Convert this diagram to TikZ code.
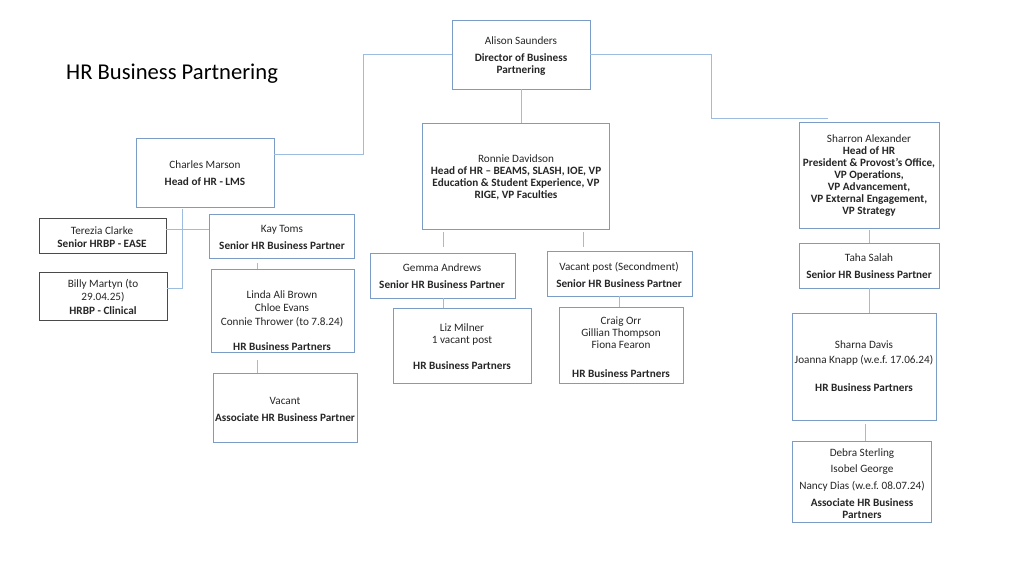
\documentclass[tikz,border=0pt]{standalone}
\usepackage{fontspec}
\setmainfont{Carlito}
\usetikzlibrary{fit}
\frenchspacing
\definecolor{boxblue}{HTML}{7C9CC8}
\definecolor{lineblue}{HTML}{9DBDE0}
\definecolor{boxgray}{HTML}{4A4A4A}
\tikzset{
  box/.style={draw=boxblue, line width=1pt, inner sep=0pt, outer sep=0pt, fill=white},
  graybox/.style={draw=boxgray, line width=1pt, inner sep=0pt, outer sep=0pt, fill=white},
  txt/.style={align=center, inner sep=0pt, yshift=-1.5pt, font=\fontsize{11.2}{12}\selectfont\frenchspacing, text=black!85},
  conn/.style={draw=lineblue, line width=0.9pt}
}
\begin{document}
\begin{tikzpicture}[x=1pt,y=-1pt]
\useasboundingbox (0,0) rectangle (1024,576);

% title
\node[anchor=west, inner sep=0pt, yshift=-1.5pt, font=\fontsize{22.6}{24}\selectfont] (title) at (66,72) {HR Business Partnering};

% boxes
\node[box, fit={(452,20) (590,89)}] (alison) {};
\node[box, fit={(422,123) (609,229)}] (ronnie) {};
\node[box, fit={(136,138) (274,207)}] (charles) {};
\node[box, fit={(799,122) (939,228)}] (sharron) {};
\node[graybox, fit={(39,218) (166,253)}] (terezia) {};
\node[graybox, fit={(39,272) (167,320)}] (billy) {};
\node[box, fit={(209,214) (354,258)}] (kay) {};
\node[box, fit={(211,269) (354,352)}] (linda) {};
\node[box, fit={(213,373) (357,442)}] (vacant) {};
\node[box, fit={(370,253) (515,298)}] (gemma) {};
\node[box, fit={(547,251) (692,296)}] (vpost) {};
\node[box, fit={(393,308) (531,383)}] (liz) {};
\node[box, fit={(559,307) (683,383)}] (craig) {};
\node[box, fit={(799,243) (939,288)}] (taha) {};
\node[box, fit={(792,313) (936,420)}] (sharna) {};
\node[box, fit={(792,441) (931,522)}] (debra) {};

% texts
\node[txt] (alison-t) at (521,54.5) {Alison Saunders\\[5pt]\textbf{Director of Business}\\\textbf{Partnering}};
\node[txt] (ronnie-t) at (516,176) {Ronnie Davidson\\\textbf{Head of HR – BEAMS, SLASH, IOE, VP}\\\textbf{Education \& Student Experience, VP}\\\textbf{RIGE, VP Faculties}};
\node[txt] (charles-t) at (205,171.5) {Charles Marson\\[5pt]\textbf{Head of HR - LMS}};
\node[txt] (sharron-t) at (869,174) {Sharron Alexander\\\textbf{Head of HR}\\\textbf{President \& Provost’s Office,}\\\textbf{VP Operations,}\\\textbf{VP Advancement,}\\\textbf{VP External Engagement,}\\\textbf{VP Strategy}};
\node[txt] (terezia-t) at (102,235.5) {Terezia Clarke\\[1pt]\textbf{Senior HRBP - EASE}};
\node[txt] (billy-t) at (103,295.5) {Billy Martyn (to\\[1pt]29.04.25)\\[2pt]\textbf{HRBP - Clinical}};
\node[txt] (kay-t) at (282,235.5) {Kay Toms\\[5pt]\textbf{Senior HR Business Partner}};
\node[txt] (linda-t) at (282,319) {Linda Ali Brown\\[1pt]Chloe Evans\\[2pt]Connie Thrower (to 7.8.24)\\[13pt]\textbf{HR Business Partners}};
\node[txt] (vacant-t) at (285,407.5) {Vacant\\[5pt]\textbf{Associate HR Business Partner}};
\node[txt] (gemma-t) at (442,274.5) {Gemma Andrews\\[5pt]\textbf{Senior HR Business Partner}};
\node[txt] (vpost-t) at (619,273.5) {Vacant post (Secondment)\\[5pt]\textbf{Senior HR Business Partner}};
\node[txt] (liz-t) at (462,345) {Liz Milner\\1 vacant post\\[14pt]\textbf{HR Business Partners}};
\node[txt] (craig-t) at (621,345.5) {Craig Orr\\Gillian Thompson\\Fiona Fearon\\[17pt]\textbf{HR Business Partners}};
\node[txt] (taha-t) at (869,264.5) {Taha Salah\\[5pt]\textbf{Senior HR Business Partner}};
\node[txt] (sharna-t) at (864,364.5) {Sharna Davis\\[3pt]Joanna Knapp (w.e.f. 17.06.24)\\[16pt]\textbf{HR Business Partners}};
\node[txt] (debra-t) at (862,482) {Debra Sterling\\[4pt]Isobel George\\[5pt]Nancy Dias (w.e.f. 08.07.24)\\[5pt]\textbf{Associate HR Business}\\\textbf{Partners}};

% helper coordinates
\coordinate (cm) at (363,154);
\coordinate (cs) at (711,118);
\coordinate (cs2) at (828,118);
\coordinate (cl) at (182,288);
\coordinate (tk) at (0,229);
\coordinate (kl) at (257,0);
\coordinate (rg) at (443,0);
\coordinate (rv) at (583,0);
\coordinate (vc) at (619,0);
\coordinate (sd) at (865,0);

% connectors
\draw[conn] (alison.south) -- (ronnie.north -| alison.south);
\draw[conn] (alison.west) -| (cm) -- (charles.east |- cm);
\draw[conn] (alison.east) -| (cs) -- (cs2);
\draw[conn, shorten <=2pt] (charles.south -| cl) -- (cl) -- (billy.east |- cl);
\draw[conn] (terezia.east |- tk) -- (kay.west |- tk);
\draw[conn, shorten <=5pt] (kay.south -| kl) -- (linda.north -| kl);
\draw[conn, shorten <=8pt] (linda.south -| kl) -- (vacant.north -| kl);
\draw[conn, shorten <=3pt, shorten >=6pt] (ronnie.south -| rg) -- (gemma.north -| rg);
\draw[conn, shorten <=3pt, shorten >=4pt] (ronnie.south -| rv) -- (vpost.north -| rv);
\draw[conn] (gemma.south -| rg) -- (liz.north -| rg);
\draw[conn] (vpost.south -| vc) -- (craig.north -| vc);
\draw[conn, shorten <=2pt] (sharron.south) -- (taha.north);
\draw[conn] (taha.south) -- (sharna.north -| taha.south);
\draw[conn, shorten <=4pt] (sharna.south -| sd) -- (debra.north -| sd);
\end{tikzpicture}
\end{document}
